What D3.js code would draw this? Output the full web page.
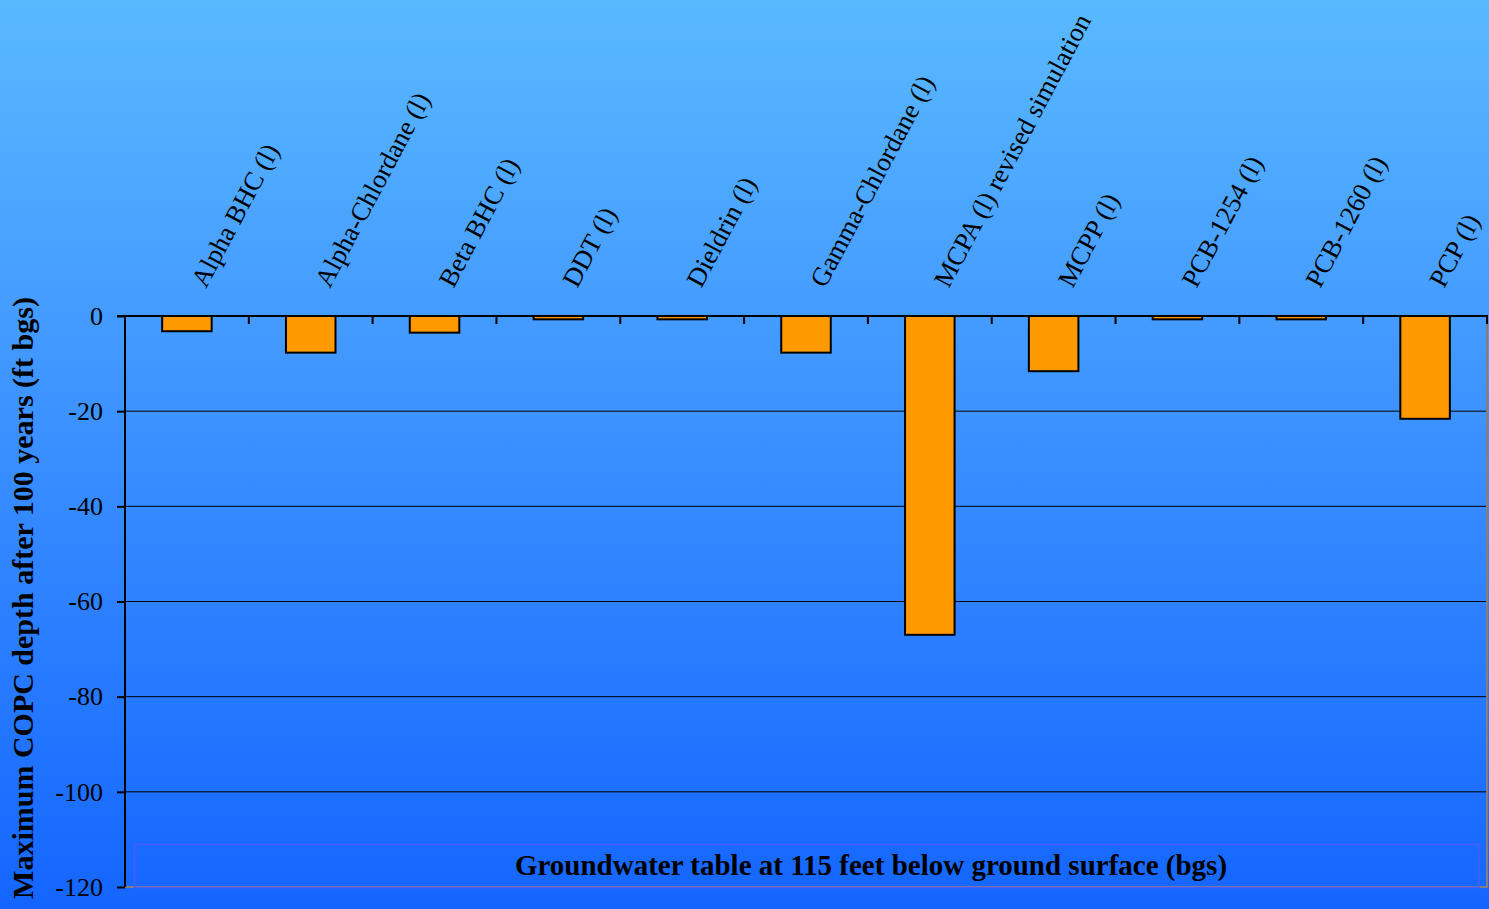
<!DOCTYPE html>
<html>
<head>
<meta charset="utf-8">
<script src="https://cdn.jsdelivr.net/npm/d3@7"></script>
<style>
  html, body { margin: 0; padding: 0; overflow: hidden; }
  svg { display: block; }
  text { font-family: "Liberation Serif", "Times New Roman", serif; fill: #000; }
</style>
</head>
<body>
<script>
// Compounds modelled (leachate simulations)
const categories = [
  "Alpha BHC (l)", "Alpha-Chlordane (l)", "Beta BHC (l)", "DDT (l)", "Dieldrin (l)",
  "Gamma-Chlordane (l)", "MCPA (l) revised simulation", "MCPP (l)", "PCB-1254 (l)",
  "PCB-1260 (l)", "PCP (l)"
];
// Maximum depth reached after 100 years (ft below ground surface, negative = down)
const depths = [-3.2, -7.7, -3.5, -0.7, -0.7, -7.7, -67.0, -11.6, -0.7, -0.7, -21.6];
const yTicks = [0, -20, -40, -60, -80, -100, -120];
const yTitle = "Maximum COPC depth after 100 years (ft bgs)";
const waterTableNote = "Groundwater table at 115 feet below ground surface (bgs)";

const W = 1489, H = 909;
const plot = { left: 125, right: 1487, top: 316, bottom: 887 };

const svg = d3.select("body").append("svg").attr("width", W).attr("height", H);

// Background gradient
const defs = svg.append("defs");
const grad = defs.append("linearGradient").attr("id", "bg")
  .attr("x1", 0).attr("y1", 0).attr("x2", 0).attr("y2", 1);
grad.append("stop").attr("offset", "0%").attr("stop-color", "#59b9ff");
grad.append("stop").attr("offset", "35%").attr("stop-color", "#449bff");
grad.append("stop").attr("offset", "100%").attr("stop-color", "#1465ff");
svg.append("rect").attr("width", W).attr("height", H).attr("fill", "url(#bg)");

const x = d3.scaleBand().domain(categories)
  .range([plot.left, plot.right]).paddingInner(0.6).paddingOuter(0.3);
const y = d3.scaleLinear().domain([-120, 0]).range([plot.bottom, plot.top]);
const step = x.step();
const gap = (step - x.bandwidth()) / 2;

// Gridlines
svg.append("g").selectAll("line").data(yTicks.filter(d => d !== 0 && d !== -120)).join("line")
  .attr("x1", plot.left).attr("x2", plot.right)
  .attr("y1", d => y(d)).attr("y2", d => y(d))
  .attr("stroke", "#000").attr("stroke-width", 1);

// Plot border (right and bottom)
svg.append("path")
  .attr("d", `M${plot.right},${plot.top}V${plot.bottom}H${plot.left}`)
  .attr("fill", "none").attr("stroke", "#808080").attr("stroke-width", 2);

// Bars
svg.append("g").selectAll("rect").data(categories).join("rect")
  .attr("x", d => x(d))
  .attr("width", x.bandwidth())
  .attr("y", y(0))
  .attr("height", (d, i) => y(depths[i]) - y(0))
  .attr("fill", "#ff9900").attr("stroke", "#000").attr("stroke-width", 2);

// Y axis
const yAxis = d3.axisLeft(y).tickValues(yTicks).tickSize(8).tickPadding(14)
  .tickFormat(d => d === 0 ? "0" : "-" + Math.abs(d));
const gy = svg.append("g").attr("transform", `translate(${plot.left},0)`).call(yAxis);
gy.select(".domain").attr("stroke", "#000").attr("stroke-width", 2)
  .attr("d", `M0,${plot.top}V${plot.bottom}`);
gy.selectAll(".tick line").attr("stroke", "#000").attr("stroke-width", 2);
gy.selectAll(".tick text").attr("font-size", 26).attr("font-family", "Liberation Serif, serif")
  .attr("fill", "#000");

// X axis line along zero with category separators
svg.append("line")
  .attr("x1", plot.left - 8).attr("x2", plot.right + 1)
  .attr("y1", y(0)).attr("y2", y(0))
  .attr("stroke", "#000").attr("stroke-width", 2);
svg.append("g").selectAll("line").data(categories.slice(1).concat([null])).join("line")
  .attr("x1", d => d === null ? plot.right : x(d) - gap)
  .attr("x2", d => d === null ? plot.right : x(d) - gap)
  .attr("y1", y(0)).attr("y2", y(0) + 8)
  .attr("stroke", "#000").attr("stroke-width", 2);

// Rotated category labels above the axis
svg.append("g").selectAll("text").data(categories).join("text")
  .attr("transform", d => `translate(${x(d) + x.bandwidth() / 2 + 19},${y(0) - 27}) rotate(-62)`)
  .attr("font-size", 26.5)
  .text(d => d);

// Y axis title
svg.append("text")
  .attr("transform", `translate(33,598) rotate(-90)`)
  .attr("text-anchor", "middle")
  .attr("font-size", 30).attr("font-weight", "bold")
  .text(yTitle);

// Groundwater table note box
svg.append("rect")
  .attr("x", 134.5).attr("y", 844.5).attr("width", 1479 - 134.5).attr("height", 43)
  .attr("fill", "none").attr("stroke", "#4a5cff").attr("stroke-width", 1.5);
svg.append("text")
  .attr("x", 871).attr("y", 875)
  .attr("text-anchor", "middle")
  .attr("font-size", 29).attr("font-weight", "bold")
  .text(waterTableNote);
</script>
</body>
</html>
